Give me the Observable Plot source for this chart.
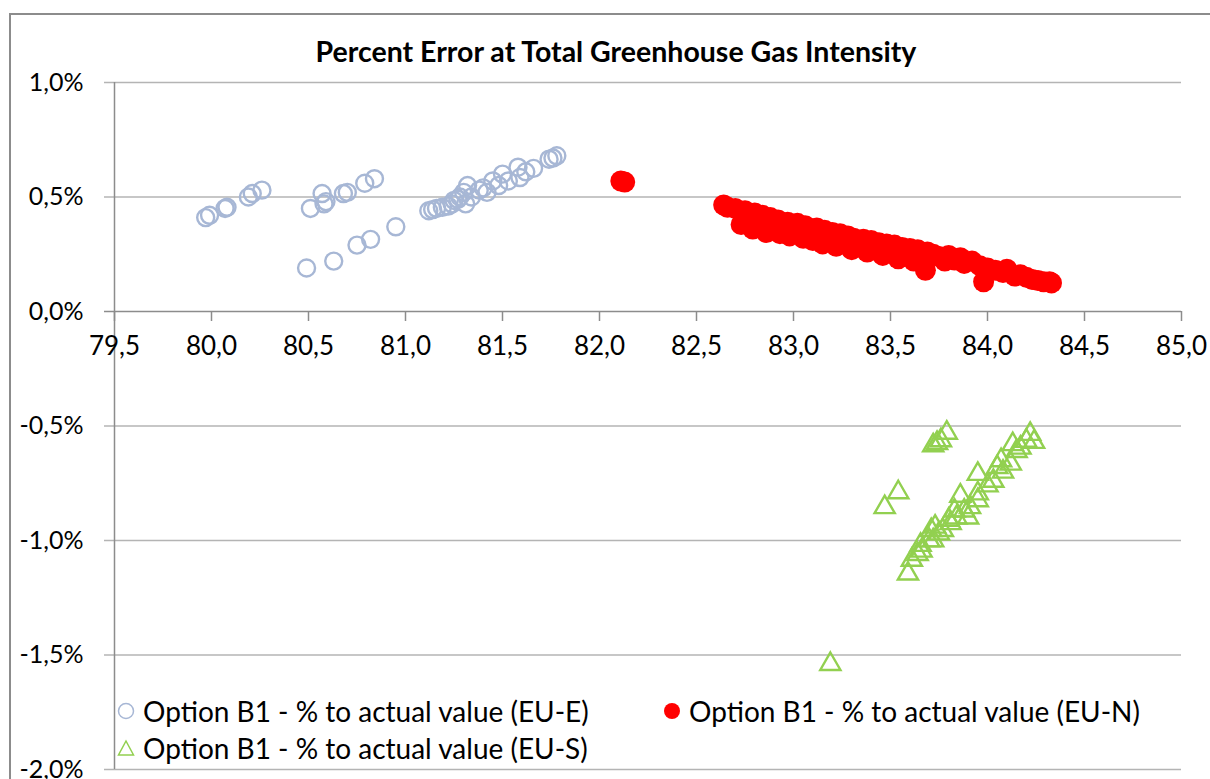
<!DOCTYPE html>
<html>
<head>
<meta charset="utf-8">
<script src="https://cdn.jsdelivr.net/npm/d3@7"></script>
<script src="https://cdn.jsdelivr.net/npm/@observablehq/plot@0.6"></script>
<style>
  html, body { margin: 0; padding: 0; background: #fff; overflow: hidden; }
  #wrap { position: relative; width: 1210px; height: 779px; overflow: hidden; font-family: Lato, "Open Sans", sans-serif; }
  #border { position: absolute; left: 9px; top: 13px; width: 1240px; height: 820px; border: 2px solid #8c8c8c; box-sizing: border-box; pointer-events: none; }
  #legend { position: absolute; left: 0; top: 0; width: 1210px; height: 779px; pointer-events: none; }
  .item { position: absolute; display: flex; align-items: center; font-size: 28px; color: #000; white-space: nowrap; }
  .item svg { margin-right: 8px; }
</style>
</head>
<body>
<div id="wrap">
  <div id="chart"></div>
  <div id="legend"></div>
  <div id="border"></div>
</div>
<script>
// ---- data ----
const title = "Percent Error at Total Greenhouse Gas Intensity";
const seriesNames = [
  "Option B1 - % to actual value (EU-E)",
  "Option B1 - % to actual value (EU-N)",
  "Option B1 - % to actual value (EU-S)"
];
const xTicks = [79.5, 80.0, 80.5, 81.0, 81.5, 82.0, 82.5, 83.0, 83.5, 84.0, 84.5, 85.0];
const yTicks = [1.0, 0.5, 0.0, -0.5, -1.0, -1.5, -2.0];

// EU-E (x = intensity, y = percent error)
const eX = [79.97, 79.99, 80.07, 80.08, 80.19, 80.21, 80.26,
  80.51, 80.57, 80.58, 80.59, 80.68, 80.70, 80.79, 80.84,
  80.49, 80.63, 80.75, 80.82, 80.95,
  81.12, 81.14, 81.16, 81.19, 81.22, 81.24, 81.25, 81.27, 81.28, 81.30, 81.31, 81.32, 81.34,
  81.38, 81.40, 81.42, 81.45, 81.48, 81.50, 81.53, 81.58, 81.59, 81.62, 81.66, 81.74, 81.76, 81.78];
const eY = [0.41, 0.42, 0.45, 0.455, 0.50, 0.515, 0.53,
  0.45, 0.515, 0.47, 0.48, 0.515, 0.52, 0.56, 0.58,
  0.19, 0.22, 0.29, 0.315, 0.37,
  0.44, 0.445, 0.45, 0.455, 0.46, 0.47, 0.485, 0.49, 0.50, 0.52, 0.47, 0.55, 0.50,
  0.53, 0.54, 0.52, 0.57, 0.55, 0.60, 0.57, 0.63, 0.585, 0.61, 0.625, 0.665, 0.67, 0.68];

// EU-N
const nX = [82.11, 82.13, 82.64, 82.66, 82.70, 82.73, 82.75, 82.79, 82.80, 82.84, 82.86, 82.88,
  82.92, 82.93, 82.97, 82.98, 83.00, 83.02, 83.05, 83.06, 83.09, 83.10, 83.12, 83.15, 83.16,
  83.18, 83.20, 83.22, 83.24, 83.26, 83.28, 83.30, 83.31, 83.34, 83.36, 83.38, 83.40, 83.42,
  83.44, 83.46, 83.48, 83.50, 83.52, 83.54, 83.56, 83.58, 83.60, 83.62, 83.64, 83.66, 83.68,
  83.69, 83.72, 83.75, 83.78, 83.80, 83.83, 83.86, 83.88, 83.92, 83.96, 83.98, 84.00, 84.04,
  84.08, 84.10, 84.14, 84.17, 84.20, 84.23, 84.26, 84.29, 84.32, 84.33];
const nY = [0.57, 0.565, 0.465, 0.455, 0.45, 0.38, 0.44, 0.36, 0.43, 0.42, 0.345, 0.41,
  0.40, 0.34, 0.39, 0.33, 0.36, 0.385, 0.32, 0.375, 0.35, 0.31, 0.365, 0.295, 0.355,
  0.33, 0.345, 0.285, 0.34, 0.31, 0.33, 0.27, 0.32, 0.30, 0.315, 0.26, 0.31, 0.28,
  0.30, 0.245, 0.295, 0.265, 0.29, 0.23, 0.28, 0.25, 0.275, 0.22, 0.27, 0.24, 0.18,
  0.26, 0.25, 0.24, 0.22, 0.245, 0.225, 0.235, 0.21, 0.22, 0.20, 0.13, 0.19, 0.18,
  0.17, 0.185, 0.155, 0.16, 0.15, 0.14, 0.135, 0.13, 0.13, 0.125];

// EU-S
const sX = [83.72, 83.74, 83.76, 83.79, 83.54, 83.47,
  83.59, 83.61, 83.64, 83.655, 83.66, 83.70, 83.71, 83.72, 83.73, 83.75, 83.77, 83.80, 83.81,
  83.83, 83.84, 83.86, 83.88, 83.90, 83.91, 83.95, 83.95, 83.95, 84.00, 84.03, 84.05, 84.07,
  84.08, 84.12, 84.13, 84.15, 84.17, 84.20, 84.22, 84.24, 83.19];
const sY = [-0.585, -0.575, -0.563, -0.53, -0.79, -0.855,
  -1.145, -1.085, -1.06, -1.02, -1.045, -1.00, -0.955, -1.00, -0.94, -0.97, -0.955, -0.91, -0.925,
  -0.87, -0.90, -0.805, -0.87, -0.90, -0.855, -0.825, -0.71, -0.795, -0.76, -0.74, -0.68, -0.65,
  -0.70, -0.665, -0.58, -0.61, -0.595, -0.565, -0.535, -0.57, -1.54];

// ---- styles ----
const colE = "#a7b7d5", colN = "#ff0000", colS = "#92d050";
const gridCol = "#b4b4b4", axisCol = "#8c8c8c";
const fmt = (d) => d.toFixed(1).replace(".", ",");
const fmtPct = (d) => d.toFixed(1).replace(".", ",") + "%";

const eData = eX.map((x, i) => ({x, y: eY[i]}));
const nData = nX.map((x, i) => ({x, y: nY[i]}));
const sData = sX.map((x, i) => ({x, y: sY[i]}));

const chart = Plot.plot({
  width: 1210,
  height: 779,
  marginLeft: 114,
  marginRight: 29,
  marginTop: 82,
  marginBottom: 10,
  x: {domain: [xTicks[0], xTicks[xTicks.length - 1]], axis: null},
  y: {domain: [yTicks[yTicks.length - 1], yTicks[0]], axis: null},
  style: {fontFamily: "Lato, 'Open Sans', sans-serif", background: "transparent"},
  marks: [
    // horizontal gridlines with left ticks
    Plot.ruleY(yTicks.filter(d => d !== 0), {y: d => d, stroke: gridCol, strokeWidth: 1.5, insetLeft: -10}),
    // x axis along zero
    Plot.ruleY([0], {stroke: axisCol, strokeWidth: 1.5, insetLeft: -10}),
    Plot.ruleX(xTicks, {x: d => d, y1: 0, y2: 0, insetBottom: -10, stroke: axisCol, strokeWidth: 1.5}),
    // y axis line
    Plot.ruleX([xTicks[0]], {stroke: axisCol, strokeWidth: 1.5}),
    // tick labels
    Plot.text(yTicks, {y: d => d, frameAnchor: "left", dx: -31, textAnchor: "end", text: fmtPct, fontSize: 25, fill: "#000"}),
    Plot.text(xTicks, {x: d => d, y: 0, dy: 35, text: fmt, fontSize: 26, fill: "#000"}),
    // title
    Plot.text([title], {frameAnchor: "top", dx: -32, dy: -41, text: d => d, fontSize: 28.5, fontWeight: "bold", fill: "#000"}),
    // data
    Plot.dot(eData, {x: "x", y: "y", r: 8.5, stroke: colE, strokeWidth: 2.4, fill: "none"}),
    Plot.dot(nData, {x: "x", y: "y", r: 10.5, fill: colN, stroke: "none"}),
    Plot.dot(sData, {x: "x", y: "y", symbol: "triangle", r: 7.5, stroke: colS, strokeWidth: 2.4, fill: "none"})
  ]
});
document.getElementById("chart").appendChild(chart);

// legend (HTML overlay)
const legend = document.getElementById("legend");
const markers = [
  `<svg width="18" height="18"><circle cx="9" cy="9" r="7.5" fill="none" stroke="${colE}" stroke-width="1.5"/></svg>`,
  `<svg width="18" height="18"><circle cx="9" cy="9" r="8" fill="${colN}"/></svg>`,
  `<svg width="18" height="18"><path d="M9,2 L16.5,16 L1.5,16 Z" fill="none" stroke="${colS}" stroke-width="1.5"/></svg>`
];
const pos = [[117, 711], [663, 711], [117, 748]];
seriesNames.forEach((name, i) => {
  const div = document.createElement("div");
  div.className = "item";
  div.style.left = pos[i][0] + "px";
  div.style.top = (pos[i][1] - 18) + "px";
  div.style.height = "36px";
  div.innerHTML = markers[i] + `<span>${name}</span>`;
  legend.appendChild(div);
});
</script>
</body>
</html>
